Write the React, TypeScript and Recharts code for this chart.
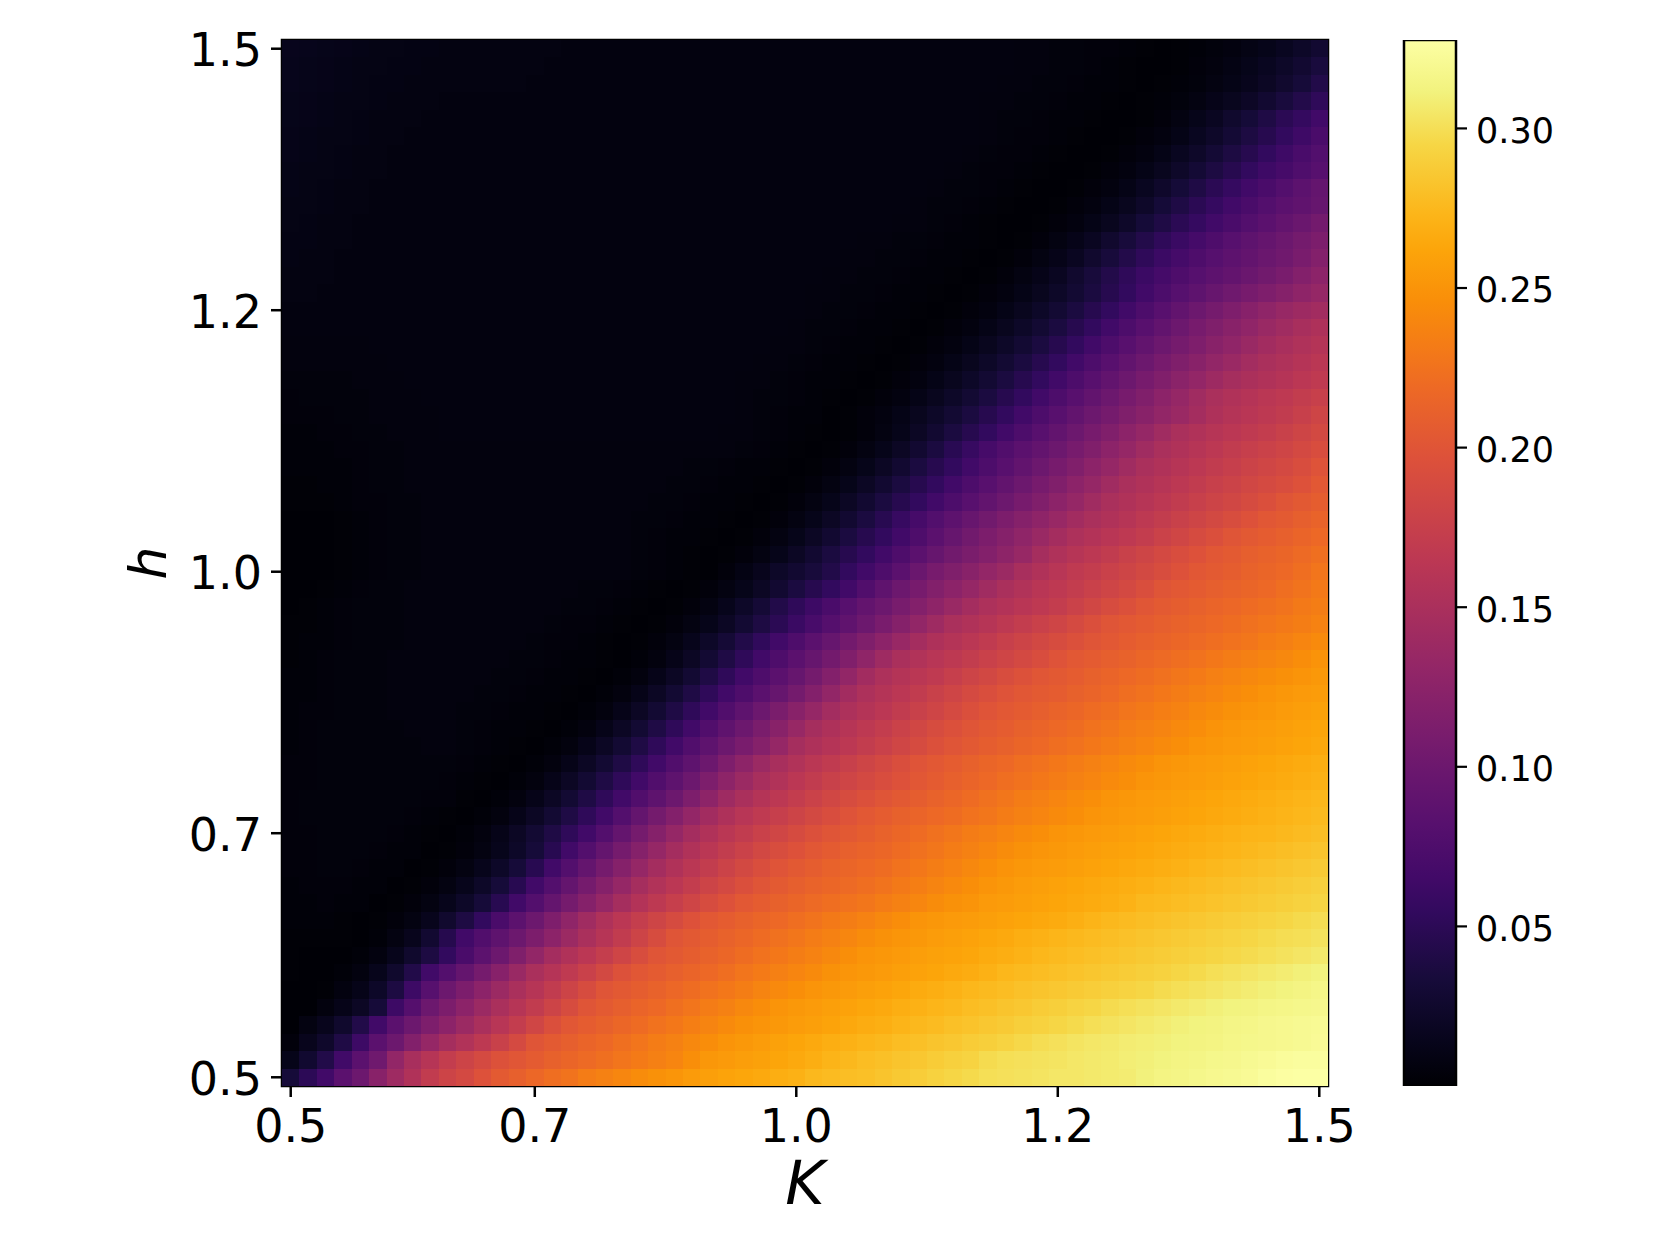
import React from 'react';
import { Bar, BarChart, Label, ReferenceArea, Scatter, ScatterChart, XAxis, YAxis } from 'recharts';

// order parameter per cell in thousandths; first row is h = 1.5, last row is h = 0.5
const heatRows: number[][] = [
  [15,14,13,12,11,10,10,9,9,8, 8,8,8,8,8,8,7,7,7,7, 7,7,7,7,7,7,7,7,7,7, 7,7,7,7,7,7,7,7,7,7, 7,7,6,6,5,5,4,4,3,2, 1,2,3,5,7,10,13,17,22,28],
  [14,13,12,11,10,10,9,9,8,8, 8,8,8,8,8,7,7,7,7,7, 7,7,7,7,7,7,7,7,7,7, 7,7,7,7,7,7,7,7,7,7, 7,7,6,6,5,5,4,3,2,1, 1,2,4,6,9,13,17,22,28,35],
  [14,13,12,11,10,9,9,8,8,8, 8,8,8,8,7,7,7,7,7,7, 7,7,7,7,7,7,7,7,7,7, 7,7,7,7,7,7,7,7,7,7, 7,6,6,5,5,4,3,3,2,1, 2,3,5,8,11,15,20,26,33,42],
  [13,12,11,10,10,9,8,8,8,7, 7,7,7,7,7,7,7,7,7,7, 7,7,7,7,7,7,7,7,7,7, 7,7,7,7,7,7,7,7,7,7, 6,6,5,5,4,3,3,2,1,2, 3,5,8,12,16,21,28,35,43,52],
  [13,12,11,10,9,8,8,8,7,7, 7,7,7,7,7,7,7,7,7,7, 7,7,7,7,7,7,7,7,7,7, 7,7,7,7,7,7,7,7,7,7, 6,5,5,4,3,3,2,1,1,2, 4,8,13,18,25,32,40,49,56,65],
  [12,11,10,10,9,8,8,7,7,7, 7,7,7,7,7,7,7,7,7,7, 7,7,7,7,7,7,7,7,7,7, 7,7,7,7,7,7,7,7,7,7, 6,5,4,4,3,2,1,1,2,4, 7,11,17,23,30,38,46,55,63,72],
  [12,11,10,9,8,8,7,7,7,7, 7,7,7,7,7,7,7,7,7,7, 7,7,7,7,7,7,7,7,7,7, 7,7,7,7,7,7,7,7,7,6, 5,4,4,3,2,1,1,2,4,7, 11,17,23,30,38,46,55,63,71,78],
  [11,10,10,9,8,8,7,7,7,7, 7,7,7,7,7,7,7,7,7,7, 7,7,7,7,7,7,7,7,7,7, 7,7,7,7,7,7,7,7,6,5, 4,4,3,2,1,1,2,4,7,11, 16,23,30,38,46,55,63,69,76,82],
  [11,10,9,8,8,7,7,7,7,7, 7,7,7,7,7,7,7,7,7,7, 7,7,7,7,7,7,7,7,7,7, 7,7,7,7,7,7,7,6,5,5, 4,3,2,1,1,2,4,7,11,17, 24,32,40,49,57,65,72,79,86,93],
  [10,10,9,8,8,7,7,7,7,7, 7,7,7,7,7,7,7,7,7,7, 7,7,7,7,7,7,7,7,7,7, 7,7,7,7,7,7,6,5,5,4, 3,2,1,1,2,4,7,11,16,23, 32,40,49,57,65,72,79,85,90,95],
  [10,9,8,8,7,7,7,7,7,7, 7,7,7,7,7,7,7,7,7,7, 7,7,7,7,7,7,7,7,7,7, 7,7,7,7,7,6,6,5,4,3, 2,1,1,2,4,7,11,16,23,32, 40,49,57,65,72,79,85,92,98,105],
  [9,9,8,8,7,7,7,7,7,7, 7,7,7,7,7,7,7,7,7,7, 7,7,7,7,7,7,7,7,7,7, 7,7,7,6,6,5,5,4,3,3, 2,1,2,4,8,12,18,26,34,43, 52,60,68,75,82,88,94,100,106,112],
  [9,8,8,7,7,7,7,7,7,7, 7,7,7,7,7,7,7,7,7,7, 7,7,7,7,7,7,7,7,7,7, 7,7,6,6,5,5,4,3,3,2, 1,2,4,8,12,18,26,34,43,52, 61,68,75,81,87,92,98,103,110,118],
  [8,8,8,7,7,7,7,7,7,7, 7,7,7,7,7,7,7,7,7,7, 7,7,7,7,7,7,7,7,7,7, 7,6,6,5,5,4,3,3,2,1, 2,4,8,12,18,26,34,43,52,61, 68,75,81,87,92,98,104,110,118,125],
  [8,8,7,7,7,7,7,7,7,7, 7,7,7,7,7,7,7,7,7,7, 7,7,7,7,7,7,7,7,7,7, 6,6,5,5,4,3,3,2,1,2, 4,7,11,16,22,29,37,46,55,65, 73,81,88,96,102,108,114,120,127,133],
  [7,7,7,7,7,7,7,7,7,7, 7,7,7,7,7,7,7,7,7,7, 7,7,7,7,7,7,7,7,7,7, 6,5,5,4,3,3,2,1,2,4, 7,11,16,22,29,37,46,55,65,74, 83,91,100,107,114,121,128,134,139,143],
  [7,7,7,7,7,7,7,7,7,7, 7,7,7,7,7,7,7,7,7,7, 7,7,7,7,7,7,7,7,7,6, 5,5,4,3,3,2,1,2,4,7, 11,16,22,29,37,46,55,65,74,83, 91,100,108,115,122,129,136,142,148,153],
  [6,6,6,6,6,7,7,7,7,7, 7,7,7,7,7,7,7,7,7,7, 7,7,7,7,7,7,7,7,6,6, 5,4,3,3,2,1,2,4,7,11, 16,22,29,37,46,55,65,74,83,91, 100,107,114,122,129,136,143,149,154,158],
  [6,6,6,6,6,6,7,7,7,7, 7,7,7,7,7,7,7,7,7,7, 7,7,7,7,7,7,7,6,6,5, 4,3,3,2,1,2,4,7,11,16, 22,29,37,46,55,65,74,83,91,100, 108,115,122,130,137,144,150,154,159,163],
  [5,5,5,5,6,6,6,7,7,7, 7,7,7,7,7,7,7,7,7,7, 7,7,7,7,7,7,6,6,5,4, 3,3,2,1,2,4,7,11,16,22, 29,37,46,55,65,74,83,91,100,108, 116,124,131,139,146,151,155,159,164,168],
  [4,5,5,5,5,6,6,6,7,7, 7,7,7,7,7,7,7,7,7,7, 7,7,7,7,7,7,6,5,5,4, 3,2,1,2,4,7,11,16,22,29, 37,46,55,65,74,83,91,100,108,116, 125,133,142,150,155,159,163,167,171,175],
  [4,4,4,5,5,6,6,6,6,7, 7,7,7,7,7,7,7,7,7,7, 7,7,7,7,7,7,6,5,4,3, 3,1,2,4,7,11,16,22,29,37, 46,55,65,74,83,91,100,107,115,122, 130,137,145,153,158,162,166,170,175,181],
  [3,3,4,4,5,5,6,6,6,7, 7,7,7,7,7,7,7,7,7,7, 7,7,7,7,7,6,6,5,4,3, 2,1,2,4,8,13,20,28,37,46, 55,65,74,83,91,100,108,116,125,133, 142,150,155,160,164,168,172,176,181,186],
  [3,3,3,4,4,5,5,6,6,6, 6,6,6,6,6,6,6,6,6,6, 6,6,6,6,6,6,5,4,3,2, 1,2,4,8,13,20,28,37,48,58, 69,77,85,92,100,108,116,125,133,142, 150,155,160,165,170,174,178,182,187,192],
  [3,3,3,3,4,5,5,6,6,6, 6,6,6,6,6,6,6,6,6,6, 6,6,6,5,5,4,3,3,2,1, 2,4,8,13,20,28,37,46,55,65, 74,83,91,100,108,116,125,133,142,150, 155,160,165,170,174,179,183,187,192,198],
  [2,2,3,3,4,5,5,6,6,6, 6,6,6,6,6,6,6,6,6,6, 6,6,5,5,4,3,3,2,1,2, 4,8,13,20,28,37,46,55,65,74, 83,91,100,108,116,125,133,142,150,155, 160,165,170,175,179,184,188,192,197,203],
  [2,2,2,3,4,4,5,5,6,6, 6,6,6,6,6,6,6,6,6,6, 6,5,5,4,3,3,2,1,2,4, 8,13,20,28,37,46,55,65,74,83, 91,100,108,116,125,133,142,150,155,160, 165,170,175,180,184,189,194,200,204,208],
  [1,1,1,2,3,4,5,5,6,6, 6,6,6,6,6,6,6,6,6,6, 5,5,4,3,3,2,1,2,4,8, 13,20,28,37,47,58,69,78,87,96, 104,112,120,127,135,143,150,155,160,166, 171,176,181,186,191,197,202,205,209,213],
  [1,1,1,2,3,4,5,5,6,6, 6,6,6,6,6,6,6,6,6,6, 5,4,3,3,2,1,2,4,8,13, 20,28,37,46,55,65,75,85,95,104, 112,120,128,136,145,152,157,162,167,172, 178,183,189,194,200,204,207,210,214,218],
  [1,1,1,2,3,4,5,5,6,6, 6,6,6,6,6,6,6,6,6,6, 5,4,3,2,1,2,4,8,13,20, 28,37,46,55,65,75,85,95,104,111, 118,126,134,146,154,160,165,170,176,181, 187,192,197,202,205,209,212,215,219,223],
  [1,1,1,2,3,4,5,5,6,6, 6,6,6,6,6,6,6,6,6,6, 5,4,3,2,1,4,9,15,22,28, 34,42,55,65,75,85,98,108,115,122, 131,138,148,155,161,168,172,177,181,186, 191,197,202,205,208,212,215,218,222,227],
  [1,1,2,3,4,5,5,6,6,6, 6,6,6,6,6,6,6,5,5,4, 3,2,1,2,4,8,13,20,28,37, 46,55,65,77,89,100,108,117,125,133, 142,150,156,162,167,172,177,182,187,193, 200,203,206,209,212,215,218,222,226,230],
  [1,2,3,4,5,5,5,6,6,6, 6,6,6,6,6,6,5,5,4,3, 2,1,2,4,8,14,22,31,42,52, 62,72,82,92,100,109,118,127,136,145, 152,157,162,167,172,178,184,190,195,201, 205,208,211,214,217,220,223,226,230,233],
  [2,2,3,4,5,5,5,6,6,6, 6,6,6,6,6,5,4,4,3,2, 1,2,4,8,13,20,29,39,49,60, 70,80,90,100,110,120,130,140,150,155, 160,166,172,177,182,188,194,200,203,206, 209,212,215,218,221,224,227,230,233,237],
  [2,3,3,4,5,5,5,6,6,6, 6,6,6,6,5,4,4,3,2,1, 2,4,8,14,22,31,42,53,65,75, 85,95,105,115,125,135,145,153,158,163, 169,175,180,185,190,195,200,203,207,210, 213,216,219,222,225,228,232,235,239,243],
  [2,3,4,5,5,5,6,6,6,6, 6,6,6,5,5,4,3,3,2,1, 3,6,12,20,29,40,52,65,75,85, 95,105,116,128,140,150,156,161,166,171, 177,182,187,192,198,203,206,209,212,216, 219,222,225,229,232,235,238,241,245,249],
  [3,3,4,5,5,5,6,6,6,6, 6,6,5,5,4,3,3,2,1,3, 6,12,20,29,40,52,65,75,85,95, 106,118,130,143,152,158,163,168,174,180, 185,191,196,201,204,207,211,214,218,221, 224,228,231,235,238,241,244,247,250,253],
  [3,3,4,5,5,5,6,6,6,6, 6,5,5,4,3,3,2,1,3,6, 12,20,29,40,52,65,75,85,95,106, 118,130,143,152,158,164,170,176,182,188, 193,198,202,205,207,211,214,218,222,225, 229,232,236,239,243,246,249,252,254,256],
  [3,4,4,5,5,5,6,6,6,6, 5,5,4,3,3,2,1,3,6,12, 20,29,40,52,65,77,88,100,111,122, 133,144,152,158,164,170,176,182,188,194, 199,203,206,209,213,216,220,223,227,230, 234,237,241,244,248,250,252,255,257,259],
  [3,4,5,5,5,5,5,6,6,6, 5,4,3,3,2,1,3,6,12,20, 29,40,52,65,77,89,100,111,122,134, 146,153,160,166,172,178,184,190,195,200, 204,207,211,214,218,221,225,228,232,235, 238,242,245,249,252,254,256,258,260,262],
  [3,4,5,5,5,5,5,5,6,6, 5,4,3,2,1,3,6,12,20,29, 40,52,65,77,88,100,110,120,133,146, 153,159,165,171,177,183,189,195,200,204, 208,211,215,218,222,225,229,232,236,239, 243,246,250,252,254,256,258,260,262,264],
  [4,4,5,5,5,5,5,5,5,5, 4,3,2,1,3,6,12,20,29,40, 52,65,77,88,100,114,126,138,148,156, 163,169,175,181,187,193,199,203,207,211, 215,218,222,225,229,232,236,239,243,246, 250,252,254,256,258,260,262,264,266,268],
  [4,4,5,5,5,5,5,5,5,4, 3,2,1,3,6,12,20,29,40,52, 65,77,88,100,113,126,138,148,156,164, 170,176,182,187,192,197,202,206,210,214, 218,222,225,229,232,236,239,243,246,250, 252,254,256,258,260,262,264,266,268,270],
  [4,5,5,5,5,5,5,5,4,4, 2,1,3,6,12,20,29,40,52,65, 77,88,100,113,126,140,150,158,165,172, 178,184,190,195,200,204,208,212,216,220, 224,228,232,235,239,243,246,250,252,254, 256,258,260,262,264,266,268,270,272,274],
  [4,5,5,5,5,5,5,4,3,2, 1,3,6,12,20,29,40,52,65,79, 93,106,118,131,143,153,161,168,174,180, 186,192,198,203,207,211,214,218,221,225, 228,232,236,239,243,246,250,252,254,256, 258,260,262,264,266,268,270,272,274,276],
  [4,4,5,5,5,5,4,3,2,1, 3,6,12,20,29,40,52,65,79,93, 107,120,133,145,155,163,170,177,183,189, 195,200,204,208,212,216,220,224,228,232, 235,239,243,246,250,252,254,256,258,260, 262,264,266,268,270,272,273,275,277,279],
  [4,4,5,5,5,4,3,3,1,2, 4,8,14,22,33,47,65,79,93,107, 120,133,145,155,163,171,178,185,191,197, 202,206,210,213,216,220,224,228,232,236, 240,244,248,251,253,255,257,259,261,263, 265,267,269,271,273,275,277,279,281,283],
  [4,4,5,5,4,3,3,1,2,4, 8,14,22,33,47,65,79,93,107,120, 133,145,155,163,171,179,186,193,199,204, 208,212,215,218,221,225,229,233,237,241, 245,249,252,254,256,258,260,262,264,266, 268,270,273,275,277,279,281,283,285,287],
  [3,4,4,4,3,3,1,2,4,8, 14,22,33,47,65,79,93,107,120,133, 146,156,164,172,180,187,194,200,205,209, 213,216,219,222,226,230,234,238,242,246, 250,253,256,258,260,262,264,266,268,270, 273,275,277,279,281,283,285,287,289,291],
  [3,3,4,3,3,1,2,4,8,14, 22,33,47,65,79,93,107,120,133,146, 157,166,174,182,190,197,203,207,211,215, 219,222,225,228,232,236,240,244,248,250, 254,256,258,260,262,264,266,268,271,275, 276,278,280,282,284,286,288,290,292,294],
  [3,3,3,2,1,2,4,8,15,26, 39,55,72,86,100,114,128,142,154,164, 173,181,189,197,203,207,211,215,218,222, 226,230,233,237,241,245,250,252,254,256, 258,260,262,264,266,269,272,275,277,279, 281,283,285,287,289,291,293,295,297,299],
  [2,2,2,2,1,3,8,15,28,45, 65,77,88,100,112,125,138,150,160,170, 180,190,200,204,208,212,216,220,224,228, 232,236,240,244,248,251,253,256,258,260, 263,265,268,270,273,275,277,279,281,283, 285,287,289,291,293,295,297,299,300,302],
  [2,1,1,1,3,7,14,25,38,55, 72,86,100,115,130,145,155,164,173,182, 191,200,204,208,212,216,221,225,229,233, 237,241,246,250,252,254,257,259,261,263, 266,268,271,274,276,278,280,282,284,286, 288,290,292,294,296,298,300,302,304,306],
  [2,1,1,3,7,14,25,42,65,79, 93,107,121,136,150,159,168,177,186,196, 202,206,210,214,218,222,227,231,235,239, 243,248,251,253,255,258,260,262,265,267, 270,274,276,278,280,282,284,286,288,290, 292,295,297,300,302,304,306,308,310,312],
  [1,1,2,7,12,22,38,62,82,100, 112,125,138,150,160,170,180,190,200,204, 208,212,217,221,225,229,233,238,242,246, 250,253,255,258,260,263,266,268,271,274, 276,278,281,283,285,287,289,291,293,295, 298,300,302,304,306,308,310,312,314,316],
  [1,1,6,12,20,33,62,80,100,112, 125,138,150,160,170,180,190,200,205,209, 214,218,223,227,232,236,241,245,250,253, 255,258,260,263,265,268,270,273,275,278, 280,283,285,288,290,293,295,298,300,302, 304,306,308,310,312,313,315,316,317,318],
  [1,8,15,25,42,65,85,100,113,125, 138,150,161,172,183,194,202,207,211,216, 220,225,229,234,238,243,247,250,253,256, 258,261,264,267,269,272,275,277,280,282, 285,287,290,292,295,297,300,302,304,306, 308,310,312,313,315,316,318,319,320,321],
  [4,15,24,40,62,85,100,117,133,146, 156,166,176,188,200,205,209,214,218,223, 227,232,236,241,245,250,253,256,259,262, 265,268,270,273,275,278,280,283,285,288, 290,293,296,299,301,303,305,306,308,309, 310,312,313,314,316,317,318,319,320,322],
  [13,27,42,65,85,102,130,148,160,172, 180,188,196,201,206,211,215,219,223,227, 231,235,239,246,252,254,257,259,262,265, 268,272,275,278,280,283,285,288,291,293, 298,300,301,302,303,305,306,307,309,310, 312,314,315,317,318,320,322,324,325,325],
  [33,50,65,85,100,122,140,155,170,180, 187,197,205,210,217,222,226,232,236,240, 244,248,251,255,258,261,263,265,268,270, 275,277,279,280,283,286,289,292,295,297, 300,301,302,303,305,305,306,307,308,311, 314,315,317,319,320,322,325,327,328,328],
];

const kTickCells = [0, 14, 29, 44, 59];
const kTickLabels = ['0.5', '0.7', '1.0', '1.2', '1.5'];
const hTickCells = [0, 14, 29, 44, 59];
const hTickLabels = ['0.5', '0.7', '1.0', '1.2', '1.5'];
const colorbarTicks = [0.05, 0.1, 0.15, 0.2, 0.25, 0.3];
const colorbarDomain = [0, 0.3277];
const colorbarRange = [{ name: 'cbar', range: colorbarDomain }];

// inferno, offset then colour
const infernoOffsets = [0, 0.043, 0.1, 0.167, 0.2, 0.25, 0.3, 0.333, 0.4, 0.5, 0.6, 0.667, 0.7, 0.75, 0.8, 0.833, 0.9, 0.95, 1];
const infernoColors = ['#000004', '#07051b', '#160b39', '#320a5e', '#420a68', '#57106e', '#6a176e', '#781c6d', '#932667', '#bb3754', '#dd513a', '#ed6925', '#f37819', '#f98e09', '#fca50a', '#fcb519', '#f6d645', '#f2f27d', '#fcffa4'];

const CELL = 1046 / 60;
const FONT = '"DejaVu Sans", sans-serif';

const toRgb = (hex: string) => [1, 3, 5].map((i) => parseInt(hex.slice(i, i + 2), 16));

const infernoAt = (t: number) => {
    const x = Math.min(1, Math.max(0, t));
    let i = 0;
    while (i < infernoOffsets.length - 2 && x > infernoOffsets[i + 1]) i++;
    const f = (x - infernoOffsets[i]) / (infernoOffsets[i + 1] - infernoOffsets[i]);
    const a = toRgb(infernoColors[i]);
    const b = toRgb(infernoColors[i + 1]);
    return `rgb(${a.map((c, n) => Math.round(c + (b[n] - c) * f)).join(',')})`;
};

const cells = heatRows.flatMap((row, r) =>
    row.map((v, c) => ({ col: c, row: 59 - r, value: v / 1000 }))
);

const HeatCell = (props: any) => {
    const { cx, cy, payload } = props;
    return (
        <rect
            x={cx - CELL / 2}
            y={cy - CELL / 2}
            width={CELL + 0.6}
            height={CELL + 0.6}
            shapeRendering="crispEdges"
            fill={infernoAt(payload.value / colorbarDomain[1])}
        />
    );
};

const App = () => {
    return (
        <div style={{ position: 'absolute', left: 0, top: 0, width: 1661, height: 1246, background: '#fff' }}>
            <div style={{ position: 'absolute', left: 0, top: 0 }}>
                <ScatterChart width={1380} height={1246} margin={{ top: 40, right: 52, bottom: 0, left: 110 }}>
                    <XAxis
                        type="number"
                        dataKey="col"
                        domain={[-0.5, 59.5]}
                        ticks={kTickCells}
                        interval={0}
                        height={160}
                        allowDataOverflow
                        axisLine={false}
                        tickSize={11}
                        tickMargin={12}
                        tickLine={{ stroke: '#000', strokeWidth: 2.5 }}
                        tick={{ fill: '#000', fontSize: 46, fontFamily: FONT }}
                        tickFormatter={(c: number) => kTickLabels[kTickCells.indexOf(c)]}
                    >
                        <Label
                            value="K"
                            position="insideTop"
                            offset={75}
                            style={{ fontSize: 60, fontStyle: 'italic', fontFamily: FONT, fill: '#000' }}
                        />
                    </XAxis>
                    <YAxis
                        type="number"
                        dataKey="row"
                        domain={[-0.5, 59.5]}
                        ticks={hTickCells}
                        interval={0}
                        width={172}
                        allowDataOverflow
                        axisLine={false}
                        tickSize={11}
                        tickMargin={9}
                        tickLine={{ stroke: '#000', strokeWidth: 2.5 }}
                        tick={{ fill: '#000', fontSize: 46, fontFamily: FONT, dy: 1 }}
                        tickFormatter={(c: number) => hTickLabels[hTickCells.indexOf(c)]}
                    >
                        <Label
                            value="h"
                            angle={-90}
                            position="insideLeft"
                            offset={38}
                            style={{ fontSize: 52, fontStyle: 'italic', fontFamily: FONT, fill: '#000', textAnchor: 'middle' }}
                        />
                    </YAxis>
                    <Scatter data={cells} shape={HeatCell} isAnimationActive={false} />
                    <ReferenceArea
                        x1={-0.5}
                        x2={59.5}
                        y1={-0.5}
                        y2={59.5}
                        fill="none"
                        stroke="#000"
                        strokeWidth={2.5}
                        ifOverflow="visible"
                    />
                </ScatterChart>
            </div>
            <div style={{ position: 'absolute', left: 1380, top: 0 }}>
                <BarChart
                    width={281}
                    height={1246}
                    data={colorbarRange}
                    barCategoryGap={0}
                    margin={{ top: 40, right: 0, bottom: 160, left: 24 }}
                >
                    <defs>
                        <linearGradient id="inferno" x1="0" y1="1" x2="0" y2="0">
                            {infernoOffsets.map((o, i) => (
                                <stop key={o} offset={o} stopColor={infernoColors[i]} />
                            ))}
                        </linearGradient>
                    </defs>
                    <XAxis dataKey="name" hide />
                    <YAxis
                        orientation="right"
                        type="number"
                        domain={colorbarDomain}
                        ticks={colorbarTicks}
                        interval={0}
                        width={205}
                        allowDataOverflow
                        axisLine={false}
                        tickSize={11}
                        tickMargin={9}
                        tickLine={{ stroke: '#000', strokeWidth: 2.2 }}
                        tick={{ fill: '#000', fontSize: 35, fontFamily: FONT, textAnchor: 'start', dy: 2 }}
                        tickFormatter={(v: number) => v.toFixed(2)}
                    />
                    <Bar dataKey="range" fill="url(#inferno)" stroke="#000" strokeWidth={2.5} isAnimationActive={false} />
                </BarChart>
            </div>
        </div>
    );
};

export default App;
